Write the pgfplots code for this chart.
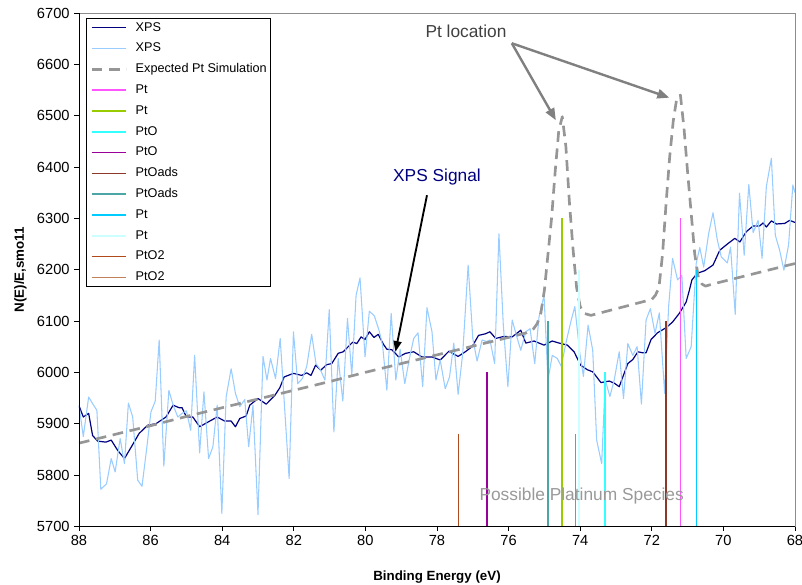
\documentclass[border=0pt]{standalone}
\usepackage{pgfplots}
\pgfplotsset{compat=1.18}
\usepackage{fontspec}
\setmainfont{Liberation Sans}
\usetikzlibrary{arrows.meta}

\definecolor{xpsnavy}{HTML}{000080}
\definecolor{xpslight}{HTML}{99CCFF}
\definecolor{simgray}{HTML}{969696}
\definecolor{ptmag}{HTML}{FF55FF}
\definecolor{ptlime}{HTML}{99CC00}
\definecolor{ptocyan}{HTML}{33FFFF}
\definecolor{ptopurple}{HTML}{990099}
\definecolor{adsbrown}{HTML}{8B3A2A}
\definecolor{adsteal}{HTML}{4DA6A6}
\definecolor{ptsky}{HTML}{00CCFF}
\definecolor{ptpale}{HTML}{CCFFFF}
\definecolor{ptotwo}{HTML}{B04A1A}
\definecolor{tanPtOtwo}{HTML}{C0805A}

\begin{document}
\begin{tikzpicture}
\path[use as bounding box] (-59.25pt,-43.5pt) rectangle (542.25pt,394.75pt);
\begin{axis}[
    at={(0,0)}, anchor=south west,
    scale only axis, width=537pt, height=385pt,
    x dir=reverse,
    xmin=68, xmax=88, ymin=5700, ymax=6700,
    xtick={68,70,...,88}, ytick={5700,5800,...,6700},
    scaled y ticks=false,
    /pgf/number format/assume math mode=true,
    /pgf/number format/set thousands separator={},
    tick label style={font=\fontsize{11}{13}\selectfont},
    xtick pos=bottom, ytick pos=left,
    tick align=outside,
    major tick length=3.5pt,
    tick style={black, line width=0.6pt},
    axis line style={black!45, line width=0.6pt},
    xlabel={\textbf{Binding Energy (eV)}},
    ylabel={\textbf{N(E)/E,smo11}},
    label style={font=\fontsize{12}{14}\selectfont},
    every axis x label/.style={at={(axis description cs:0.5,0)}, anchor=center, yshift=-38pt},
    every axis y label/.style={at={(axis description cs:0,0.5)}, rotate=90, anchor=center, yshift=44pt},
    legend style={at={(axis description cs:0.0098,0.990)}, anchor=north west,
        draw=black, line width=0.6pt, fill=white,
        inner xsep=3pt, inner ysep=2pt,
        font=\fontsize{9.5}{11}\selectfont,
        nodes={inner sep=0pt, text height=7.5pt, text depth=2.5pt},
        row sep=5.6pt,
        cells={anchor=west},
        /tikz/every odd column/.append style={column sep=6pt}},
    legend image code/.code={\draw[#1] (0pt,0pt) -- (26pt,0pt);},
    clip=true,
]

% smoothed XPS
\addplot[xpsnavy, line width=0.9pt, line join=round] coordinates {
(88.0,5935) (87.88,5913) (87.73,5920) (87.62,5877) (87.48,5866) (87.25,5864)
(87.1,5868) (86.92,5848) (86.73,5832) (86.46,5864) (86.32,5881) (86.08,5897)
(85.85,5900) (85.57,5913) (85.37,5936) (85.2,5931) (85.12,5931) (85.0,5913)
(84.82,5913) (84.63,5894) (84.4,5903) (84.14,5913) (83.93,5905) (83.75,5905)
(83.63,5894) (83.51,5910) (83.33,5915) (83.23,5936) (83.0,5949) (82.77,5938)
(82.53,5955) (82.39,5970) (82.27,5991) (82.01,5998) (81.78,5994) (81.64,5999)
(81.52,5994) (81.39,6014) (81.25,6004) (81.08,6015) (80.94,6017) (80.76,6037)
(80.62,6040) (80.48,6050) (80.35,6059) (80.24,6056) (80.12,6069) (80.01,6064)
(79.89,6079) (79.76,6068) (79.64,6074) (79.5,6055) (79.4,6045) (79.26,6044)
(79.07,6030) (78.88,6037) (78.65,6040) (78.42,6030) (78.14,6030) (77.91,6024)
(77.67,6041) (77.41,6031) (77.21,6040) (77.02,6050) (76.84,6072) (76.65,6075)
(76.52,6079) (76.36,6066) (76.13,6070) (75.9,6069) (75.66,6082) (75.52,6057)
(75.29,6061) (75.01,6053) (74.78,6061) (74.59,6057) (74.36,6053) (74.17,6040)
(73.99,6014) (73.8,6005) (73.65,6001) (73.42,5980) (73.19,5983) (73.05,5979)
(72.91,5972) (72.67,6017) (72.53,6025) (72.39,6040) (72.25,6038) (72.16,6038)
(72.02,6064) (71.84,6077) (71.6,6087) (71.42,6098) (71.23,6115) (71.04,6137)
(70.95,6160) (70.88,6180) (70.73,6193) (70.52,6198) (70.29,6209) (70.1,6238)
(69.87,6251) (69.68,6261) (69.54,6254) (69.36,6274) (69.17,6285) (68.99,6285)
(68.89,6291) (68.8,6283) (68.66,6295) (68.52,6289) (68.29,6290) (68.15,6296)
(68.0,6292)
};
\addlegendentry{XPS}

% raw XPS
\addplot[xpslight, line width=0.8pt, line join=round] coordinates {
(88.0,5936) (87.88,5875) (87.73,5952) (87.62,5939) (87.5,5926) (87.39,5772)
(87.23,5783) (87.1,5832) (86.99,5806) (86.85,5871) (86.73,5822) (86.62,5940)
(86.5,5913) (86.36,5790) (86.24,5778) (86.11,5851) (85.99,5923) (85.87,5944)
(85.76,6063) (85.63,5817) (85.49,5965) (85.37,5936) (85.24,5913) (85.12,5920)
(85.0,5925) (84.88,5887) (84.77,6033) (84.63,5843) (84.51,5962) (84.38,5832)
(84.26,5855) (84.14,5936) (84.01,5725) (83.89,5952) (83.75,6007) (83.63,5959)
(83.51,5933) (83.37,5947) (83.26,5855) (83.14,5936) (83.0,5723) (82.86,6031)
(82.75,5985) (82.65,6027) (82.51,5988) (82.38,6066) (82.13,5793) (82.01,6079)
(81.89,5978) (81.76,5988) (81.64,6011) (81.5,6074) (81.38,6017) (81.25,6004)
(81.13,5985) (81.01,6122) (80.88,5884) (80.76,6027) (80.63,5944) (80.5,6105)
(80.38,5994) (80.26,6150) (80.15,6184) (80.01,6030) (79.89,6119) (79.75,6110)
(79.62,6082) (79.52,6053) (79.4,5965) (79.28,6115) (79.15,5985) (79.03,6045)
(78.9,5978) (78.77,6027) (78.65,6066) (78.53,6077) (78.4,5972) (78.28,6126)
(78.14,6079) (78.03,5985) (77.91,6024) (77.77,5968) (77.65,5991) (77.53,6057)
(77.41,5957) (77.28,6038) (77.13,6209) (77.0,6066) (76.88,6022) (76.74,6063)
(76.62,6060) (76.52,6063) (76.39,6017) (76.27,6270) (76.15,6095) (76.02,5972)
(75.9,6102) (75.77,6069) (75.66,6043) (75.52,6079) (75.4,6085) (75.27,6017)
(75.15,6108) (75.01,6150) (74.9,5985) (74.78,6033) (74.64,6027) (74.53,6012)
(74.38,6063) (74.25,6102) (74.15,6128) (74.01,6037) (73.91,5992) (73.78,6092)
(73.65,6043) (73.54,5868) (73.4,5822) (73.3,5985) (73.17,5953) (73.05,5985)
(72.91,6040) (72.79,5949) (72.67,6056) (72.53,6033) (72.41,6050) (72.29,5938)
(72.16,6102) (72.04,6124) (71.91,6076) (71.79,6116) (71.64,5959) (71.53,6128)
(71.42,6222) (71.28,6180) (71.16,6189) (71.04,6027) (70.9,6050) (70.76,6212)
(70.66,6243) (70.55,6205) (70.41,6271) (70.29,6311) (70.17,6258) (70.06,6225)
(69.89,6213) (69.8,6244) (69.67,6113) (69.55,6349) (69.42,6228) (69.29,6366)
(69.17,6272) (69.03,6296) (68.92,6222) (68.8,6362) (68.66,6417) (68.55,6267)
(68.43,6238) (68.31,6199) (68.18,6248) (68.06,6365) (68.0,6350)
};
\addlegendentry{XPS}

% expected Pt simulation
\addplot[simgray, line width=2pt, dash pattern=on 8pt off 5pt, line join=round] coordinates {
(88,5862) (87,5879) (86,5896) (85,5914) (84,5931) (83,5948) (82,5965) (81,5982)
(80,6000) (79,6017) (78,6034) (77,6051) (76,6068) (75.5,6077) (75.3,6085)
(75.2,6095) (75.1,6115) (75.0,6160) (74.9,6230) (74.8,6300) (74.7,6390)
(74.6,6470) (74.5,6498) (74.4,6440) (74.3,6330) (74.2,6240) (74.1,6165)
(74.0,6128) (73.9,6115) (73.7,6111) (72.0,6142) (71.9,6150) (71.8,6165)
(71.7,6230) (71.6,6330) (71.5,6420) (71.4,6490) (71.3,6535) (71.2,6540)
(71.1,6475) (71.0,6390) (70.9,6310) (70.8,6230) (70.7,6185) (70.6,6172)
(70.5,6168) (70.3,6172) (68,6212)
};
\addlegendentry{Expected Pt Simulation}

% species positions
\addplot[ptmag, line width=1.2pt] coordinates {(71.2,5700) (71.2,6300)};
\addlegendentry{Pt}
\addplot[ptlime, line width=1.2pt] coordinates {(74.5,5700) (74.5,6300)};
\addlegendentry{Pt}
\addplot[ptocyan, line width=1.2pt] coordinates {(73.3,5700) (73.3,6000)};
\addlegendentry{PtO}
\addplot[ptopurple, line width=1.2pt] coordinates {(76.6,5700) (76.6,6000)};
\addlegendentry{PtO}
\addplot[adsbrown, line width=1pt] coordinates {(71.6,5700) (71.6,6100)};
\addlegendentry{PtOads}
\addplot[adsteal, line width=1.2pt] coordinates {(74.9,5700) (74.9,6100)};
\addlegendentry{PtOads}
\addplot[ptsky, line width=1.2pt] coordinates {(70.75,5700) (70.75,6200)};
\addlegendentry{Pt}
\addplot[ptpale, line width=1.2pt] coordinates {(74.03,5700) (74.03,6200)};
\addlegendentry{Pt}
\addplot[ptotwo, line width=1.2pt] coordinates {(77.4,5700) (77.4,5880)};
\addlegendentry{PtO2}
\addplot[tanPtOtwo, line width=1.2pt, forget plot] coordinates {(74.13,5700) (74.13,5880)};
\addlegendimage{draw=tanPtOtwo, line width=1.2pt}
\addlegendentry{PtO2}

% black left and bottom axis lines
\draw[black, line width=0.7pt] (rel axis cs:0,1) -- (rel axis cs:0,0) -- (rel axis cs:1,0);

% annotations
\node[font=\fontsize{13}{15}\selectfont, text=xpsnavy] at (axis cs:78.0,6380) {XPS Signal};
\draw[black, line width=1.4pt, -{Triangle[length=8pt,width=6pt]}] (axis cs:78.28,6345) -- (axis cs:79.16,6040);
\node[font=\fontsize{13}{15}\selectfont, text=black!75] at (axis cs:77.19,6664) {Pt location};
\draw[black!50, line width=1.8pt, -{Triangle[length=9pt,width=7pt]}] (axis cs:75.91,6641) -- (axis cs:74.68,6491);
\draw[black!50, line width=1.8pt, -{Triangle[length=9pt,width=7pt]}] (axis cs:75.91,6641) -- (axis cs:71.51,6535);
\node[font=\fontsize{13}{15}\selectfont, text=black!40] at (axis cs:73.96,5760) {Possible Platinum Species};
\end{axis}
\end{tikzpicture}
\end{document}
